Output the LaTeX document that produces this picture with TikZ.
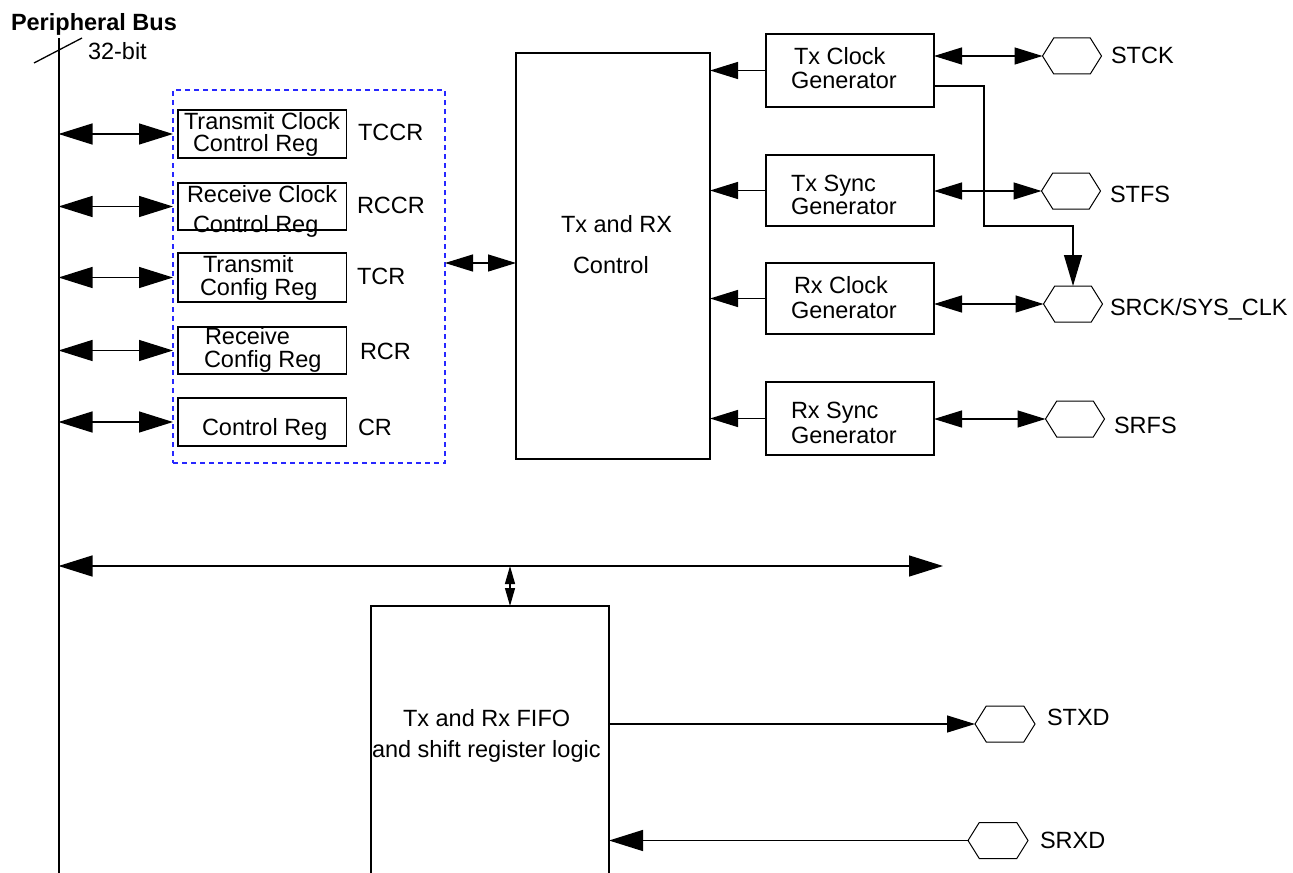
\documentclass[tikz,border=0pt]{standalone}
\usepackage{fontspec}
\setmainfont{Liberation Sans}
\usetikzlibrary{arrows.meta,shapes.symbols,calc}
\definecolor{dashblue}{RGB}{40,40,255}
\begin{document}
\begin{tikzpicture}[x=0.5pt,y=-0.5pt,
  font=\fontsize{11.75}{12}\selectfont,
  every node/.style={inner sep=0pt, outer sep=0pt},
  txt/.style={anchor=base west},
  box/.style={draw, line width=0.65pt, rectangle},
  dbox/.style={draw=dashblue, line width=0.6pt, dash pattern=on 2.5pt off 2pt, rectangle},
  hexa/.style={draw, line width=0.5pt, signal, signal to=west and east, signal pointer angle=116, minimum width=29.5pt, minimum height=18pt},
  conn/.style={line width=0.65pt},
  bigtip/.tip={Triangle[length=17pt,width=10.5pt]},
  medtip/.tip={Triangle[length=14pt,width=8.5pt]},
  smalltip/.tip={Triangle[length=9pt,width=5pt]},
  bigdbl/.style={conn, bigtip-bigtip},
  meddbl/.style={conn, medtip-medtip},
  medarr/.style={conn, -medtip},
  bigarr/.style={conn, -bigtip},
  smalldbl/.style={conn, smalltip-smalltip}
]
\useasboundingbox (0,0) rectangle (1293,872);

% bus
\coordinate (bustop) at (58.5,38);
\coordinate (busbot) at (58.5,880);
\draw[line width=1pt] (bustop) -- (busbot);
\draw[conn] (34,63) -- (82,38);
\node[txt, font=\fontsize{11.75}{12}\selectfont\bfseries] (pbus) at (11,31) {Peripheral Bus};
\node[txt] (w32) at (88,60) {32-bit};

% register group
\node[dbox, minimum width=136pt, minimum height=186.5pt] (regs) at (309,276.5) {};
\node[box, minimum width=84.25pt, minimum height=24pt] (tccr) at (262.25,134) {};
\node[box, minimum width=84.25pt, minimum height=23.5pt] (rccr) at (262.25,206.5) {};
\node[box, minimum width=84.25pt, minimum height=24.5pt] (tcr) at (262.25,277.5) {};
\node[box, minimum width=84.25pt, minimum height=23.5pt] (rcr) at (262.25,350.5) {};
\node[box, minimum width=84.25pt, minimum height=24pt] (cr) at (262.25,422) {};

\node[txt] (tccr1) at (184,129) {Transmit Clock};
\node[txt] (tccr2) at (193,151) {Control Reg};
\node[txt] (tccrl) at (358,140) {TCCR};
\node[txt] (rccr1) at (187,202) {Receive Clock};
\node[txt] (rccr2) at (193,232) {Control Reg};
\node[txt] (rccrl) at (357,213) {RCCR};
\node[txt] (tcr1) at (203,272) {Transmit};
\node[txt] (tcr2) at (200,295) {Config Reg};
\node[txt] (tcrl) at (357,284) {TCR};
\node[txt] (rcr1) at (205,344) {Receive};
\node[txt] (rcr2) at (204,367) {Config Reg};
\node[txt] (rcrl) at (360,359) {RCR};
\node[txt] (cr1) at (202,435) {Control Reg};
\node[txt] (crl) at (358,435) {CR};

\foreach \r in {tccr,rccr,tcr,rcr,cr}{
  \draw[bigdbl] (bustop |- \r.west) -- (regs.west |- \r.west);
}

% control
\node[box, minimum width=97pt, minimum height=203pt] (ctl) at (613,256) {};
\node[txt] (ctl1) at (561,232) {Tx and RX};
\node[txt] (ctl2) at (573,273) {Control};
\coordinate (cy) at (480,263);
\draw[meddbl] (regs.east |- cy) -- (ctl.west |- cy);

% generators
\node[box, minimum width=84pt, minimum height=36.5pt] (txclk) at (850,70.5) {};
\node[box, minimum width=84pt, minimum height=35.5pt] (txsync) at (850,190.5) {};
\node[box, minimum width=84pt, minimum height=35.5pt] (rxclk) at (850,298.5) {};
\node[box, minimum width=84pt, minimum height=36.5pt] (rxsync) at (850,418.5) {};
\node[txt] (g1a) at (794,65) {Tx Clock};
\node[txt] (g1b) at (791,89) {Generator};
\node[txt] (g2a) at (791,191) {Tx Sync};
\node[txt] (g2b) at (791,214) {Generator};
\node[txt] (g3a) at (794,293) {Rx Clock};
\node[txt] (g3b) at (791,318) {Generator};
\node[txt] (g4a) at (791,418) {Rx Sync};
\node[txt] (g4b) at (791,443) {Generator};

% pins
\node[hexa] (stck) at (1072,56) {};
\node[hexa] (stfs) at (1071,191) {};
\node[hexa] (srck) at (1073,304) {};
\node[hexa] (srfs) at (1075,419) {};
\node[hexa, minimum width=30pt] (stxd) at (1005,724) {};
\node[hexa, minimum width=30pt] (srxd) at (998,840.5) {};
\node[txt] (stckl) at (1111,64) {STCK};
\node[txt] (stfsl) at (1110,202) {STFS};
\node[txt] (srckl) at (1110,315) {SRCK/SYS\_CLK};
\node[txt] (srfsl) at (1114,433) {SRFS};
\node[txt] (stxdl) at (1047,725) {STXD};
\node[txt] (srxdl) at (1040,848) {SRXD};

\foreach \g in {txclk,txsync,rxclk,rxsync}{
  \draw[medarr] (\g.west) -- (ctl.east |- \g.west);
}
\draw[meddbl] (txclk.east |- stck.west) -- (stck.west);
\draw[meddbl] (txsync.east |- stfs.west) -- (stfs.west);
\draw[meddbl] (rxclk.east |- srck.west) -- (srck.west);
\draw[meddbl] (rxsync.east |- srfs.west) -- (srfs.west);

\draw[conn, -{Triangle[length=15.5pt,width=9pt]}] ($(txclk.east)+(0,15.5)$) -- (984,86) -- (984,226) -| (srck.north);

% FIFO
\node[box, minimum width=119pt, minimum height=137pt] (fifo) at (490,743) {};
\node[txt] (f1) at (403,726) {Tx and Rx FIFO};
\node[txt] (f2) at (372,757) {and shift register logic};

\coordinate (busend) at (943,566);
\coordinate (tap) at (510,566);
\draw[bigdbl] (bustop |- busend) -- (busend);
\draw[smalldbl] (tap) -- (tap |- fifo.north);
\draw[medarr] (fifo.east |- stxd.west) -- (stxd.west);
\draw[bigarr] (srxd.west) -- (fifo.east |- srxd.west);
\end{tikzpicture}
\end{document}
